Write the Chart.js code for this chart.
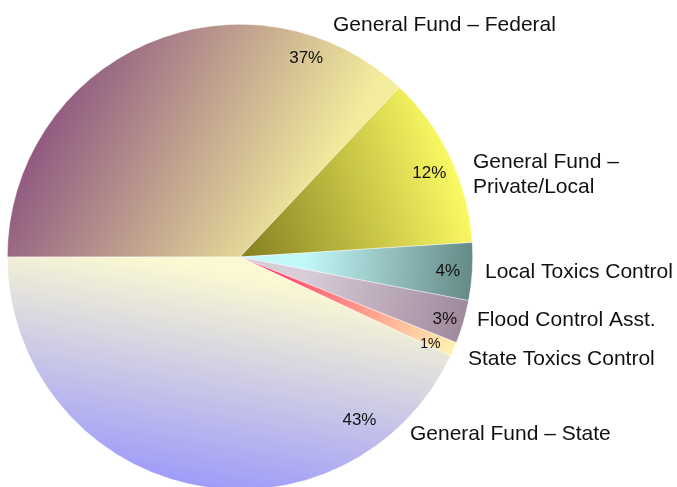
<!DOCTYPE html>
<html>
<head>
<meta charset="utf-8">
<script src="https://cdn.jsdelivr.net/npm/chart.js@4"></script>
<style>
  html, body { margin: 0; padding: 0; background: #fff; overflow: hidden; }
  #wrap { position: relative; width: 677px; height: 500px; }
</style>
</head>
<body>
<div id="wrap"><canvas id="fundChart"></canvas></div>
<script>
// funding sources, share of total (%)
const sources = ['General Fund – Federal', 'General Fund – Private/Local', 'Local Toxics Control',
                 'Flood Control Asst.', 'State Toxics Control', 'General Fund – State'];
const shares = [37, 12, 4, 3, 1, 43];

// gradient stops per slice: [x0,y0,x1,y1] as fractions of radius from the center, then colours
const fills = [
    [[-0.76, -0.84, 0.34, -0.28], '#8c5380', '#f2ec9c'],
    [[0.05, 0.0, 0.99, -0.30], '#8a8424', '#ffff66'],
    [[0.28, 0.02, 0.99, 0.06], '#c2f8f8', '#668a88'],
    [[0.28, 0.10, 0.95, 0.28], '#d8ccd8', '#a08a9e'],
    [[0.10, 0.02, 0.90, 0.40], '#ff3866', '#fff0b0'],
    [[0.02, 0.08, -0.14, 0.98], '#fbf9d2', '#9f9df8']
];

// where the percent sits inside each slice: fraction along the arc, fraction of radius
const pctPos = [[0.814, 0.90], [0.53, 0.89], [0.53, 0.895], [0.57, 0.92], [0.86, 0.90], [0.185, 0.87]];
const pctFont = [17, 17, 17, 17, 14, 17];

// outside name labels: lines, left x, first baseline
const nameLabels = [
    [['General Fund – Federal'], 333, 31],
    [['General Fund –', 'Private/Local'], 473, 168],
    [['Local Toxics Control'], 485, 278],
    [['Flood Control Asst.'], 477, 326],
    [['State Toxics Control'], 468, 365],
    [['General Fund – State'], 410, 440]
];

function sliceFill(context) {
    const chart = context.chart;
    const area = chart.chartArea;
    const f = fills[context.dataIndex];
    if (!area) return f[2];
    const cx = (area.left + area.right) / 2;
    const cy = (area.top + area.bottom) / 2;
    const r = Math.min(area.right - area.left, area.bottom - area.top) / 2;
    const p = f[0];
    const g = chart.ctx.createLinearGradient(cx + p[0] * r, cy + p[1] * r, cx + p[2] * r, cy + p[3] * r);
    g.addColorStop(0, f[1]);
    g.addColorStop(1, f[2]);
    return g;
}

const labelPlugin = {
    id: 'sliceLabels',
    afterDatasetsDraw(chart) {
        const ctx = chart.ctx;
        const arcs = chart.getDatasetMeta(0).data;
        ctx.save();
        ctx.fillStyle = '#111';
        arcs.forEach((arc, i) => {
            const pos = pctPos[i];
            const a = arc.startAngle + (arc.endAngle - arc.startAngle) * pos[0];
            const rr = arc.outerRadius * pos[1];
            ctx.font = pctFont[i] + 'px "Liberation Sans", Arial, sans-serif';
            ctx.textAlign = 'center';
            ctx.textBaseline = 'middle';
            ctx.fillText(shares[i] + '%', arc.x + Math.cos(a) * rr, arc.y + Math.sin(a) * rr);
        });
        ctx.font = '21px "Liberation Sans", Arial, sans-serif';
        ctx.textAlign = 'left';
        ctx.textBaseline = 'alphabetic';
        nameLabels.forEach(n => {
            n[0].forEach((line, k) => ctx.fillText(line, n[1], n[2] + k * 25));
        });
        ctx.restore();
    }
};

new Chart(document.getElementById('fundChart'), {
    type: 'pie',
    data: {
        labels: sources,
        datasets: [{
            data: shares,
            backgroundColor: sliceFill,
            borderWidth: 0.6,
            borderColor: 'rgba(255,255,255,0.7)'
        }]
    },
    options: {
        responsive: true,
        maintainAspectRatio: false,
        animation: false,
        rotation: 270,
        layout: { padding: { left: 7, right: 204, top: 24, bottom: 10 } },
        plugins: {
            legend: { display: false },
            tooltip: { enabled: false }
        }
    },
    plugins: [labelPlugin]
});
</script>
</body>
</html>
